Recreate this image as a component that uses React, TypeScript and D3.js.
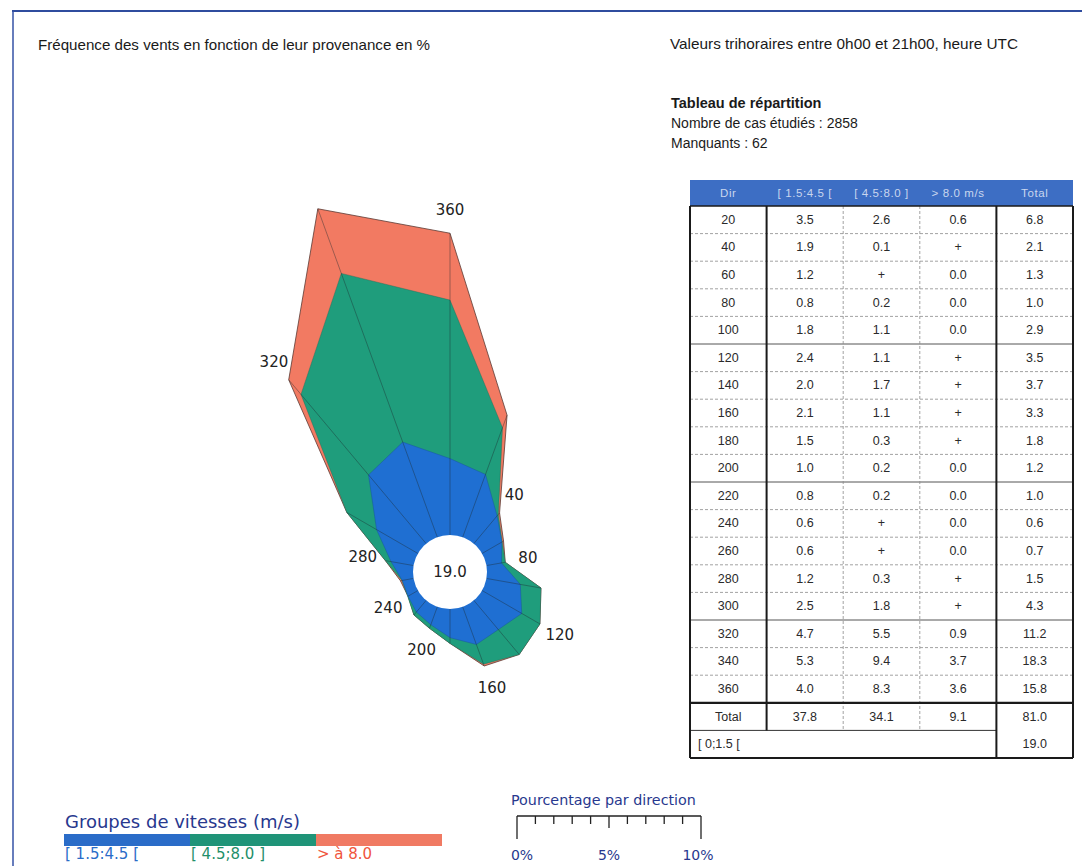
import { useEffect } from "react";
import * as d3 from "d3";

// directions (degrees, wind "from")
const directions = [20, 40, 60, 80, 100, 120, 140, 160, 180, 200, 220, 240, 260, 280, 300, 320, 340, 360];
// frequencies in %, null = "+" (trace, < 0.05)
const speedLow = [3.5, 1.9, 1.2, 0.8, 1.8, 2.4, 2.0, 2.1, 1.5, 1.0, 0.8, 0.6, 0.6, 1.2, 2.5, 4.7, 5.3, 4.0];
const speedMid = [2.6, 0.1, null, 0.2, 1.1, 1.1, 1.7, 1.1, 0.3, 0.2, 0.2, null, null, 0.3, 1.8, 5.5, 9.4, 8.3];
const speedHigh = [0.6, null, 0.0, 0.0, 0.0, null, null, null, null, 0.0, 0.0, 0.0, 0.0, null, null, 0.9, 3.7, 3.6];
const totals = [6.8, 2.1, 1.3, 1.0, 2.9, 3.5, 3.7, 3.3, 1.8, 1.2, 1.0, 0.6, 0.7, 1.5, 4.3, 11.2, 18.3, 15.8];
const columnTotals = [37.8, 34.1, 9.1, 81.0];
const calm = 19.0;
const casesStudied = 2858;
const missing = 62;

const labelDirections = [40, 80, 120, 160, 200, 240, 280, 320, 360];
const headerLabels = ["Dir", "[ 1.5:4.5 [", "[ 4.5:8.0 ]", "> 8.0 m/s", "Total"];
const legendLabels = ["[ 1.5:4.5 [", "[ 4.5;8.0 ]", "> à 8.0"];
const scaleTicks = [0, 1, 2, 3, 4, 5, 6, 7, 8, 9, 10];
const scaleLabels = [0, 5, 10];

const TRACE = 0.02;
const colors = { low: "#1f6fd2", mid: "#1f9d7c", high: "#f27a62" };
const legendColors = ["#2a6cc8", "#1f9478", "#f07a63"];
const legendTextColors = ["#2a6cc8", "#1f8f6a", "#f0553c"];
const navy = "#28388e";
const sans = "'Liberation Sans', Arial, sans-serif";
const deja = "'DejaVu Sans', sans-serif";

const fmt = (v: number | null) => (v === null ? "+" : v.toFixed(1));

export default function App() {
  useEffect(() => {
    document.body.style.margin = "0";
  }, []);

  const width = 1082;
  const height = 866;

  // rose
  const cx = 450;
  const cy = 572;
  const r0 = 37;
  const r = d3.scaleLinear().domain([0, 10]).range([r0, r0 + 191]);
  const rad = (deg: number) => (deg * Math.PI) / 180;

  const cumLow = speedLow.map((v) => v);
  const cumMid = speedMid.map((v, i) => cumLow[i] + (v === null ? TRACE : v));
  const cumHigh = totals.map((v) => v);

  const radial = d3
    .lineRadial<number>()
    .angle((_, i) => rad(directions[i]))
    .curve(d3.curveLinearClosed);

  const ring = (vals: number[]) => radial.radius((v) => r(v))(vals) ?? "";

  // table
  const colX = d3.scaleBand<number>().domain([0, 1, 2, 3, 4]).range([690, 1073]);
  const rowKeys = [...directions.map(String), "total", "calm"];
  const rowY = d3.scaleBand<string>().domain(rowKeys).range([206, 758]);
  const tableTop = 180;
  const tableLeft = 690;
  const tableRight = 1073;
  const rowH = rowY.bandwidth();
  const colW = colX.bandwidth();
  const totalTop = rowY("total")!;
  const calmTop = rowY("calm")!;

  // legend / scale bar
  const legendX = d3.scaleBand<number>().domain([0, 1, 2]).range([64, 442]);
  const pct = d3.scaleLinear().domain([0, 10]).range([517, 701]);

  const cellText = (x: number, y: number, t: string, key: string) => (
    <text key={key} x={x} y={y} textAnchor="middle" dominantBaseline="central" fontSize={12.5} fill="#2a2a2a" fontFamily={sans}>
      {t}
    </text>
  );

  return (
    <svg width={width} height={height} style={{ display: "block", background: "#fff" }}>
      {/* frame */}
      <line x1={12} x2={width} y1={11} y2={11} stroke="#2f4c9e" strokeWidth={2} />
      <line x1={13} x2={13} y1={11} y2={height} stroke="#3552a6" strokeWidth={1.5} />

      <text x={38} y={50} fontSize={15} fontFamily={sans} fill="#1a1a1a" textLength={392} lengthAdjust="spacingAndGlyphs">
        Fréquence des vents en fonction de leur provenance en %
      </text>
      <text x={670} y={49} fontSize={15} fontFamily={sans} fill="#1a1a1a" textLength={348} lengthAdjust="spacingAndGlyphs">
        Valeurs trihoraires entre 0h00 et 21h00, heure UTC
      </text>
      <text x={671} y={108} fontSize={14.5} fontWeight="bold" fontFamily={sans} fill="#1a1a1a">
        Tableau de répartition
      </text>
      <text x={671} y={128} fontSize={14} fontFamily={sans} fill="#1a1a1a">
        {`Nombre de cas étudiés : ${casesStudied}`}
      </text>
      <text x={671} y={148} fontSize={14} fontFamily={sans} fill="#1a1a1a">
        {`Manquants : ${missing}`}
      </text>

      {/* wind rose */}
      <g transform={`translate(${cx},${cy})`}>
        <path d={ring(cumHigh)} fill={colors.high} stroke="#5a3a33" strokeWidth={0.8} />
        <path d={ring(cumMid)} fill={colors.mid} stroke="#1c6a56" strokeWidth={0.4} />
        <path d={ring(cumLow)} fill={colors.low} stroke="#1a4f96" strokeWidth={0.4} />
        {directions.map((d, i) => {
          const a = rad(d);
          const ro = r(totals[i]);
          return (
            <line
              key={`rad-${d}`}
              x1={r0 * Math.sin(a)}
              y1={-r0 * Math.cos(a)}
              x2={ro * Math.sin(a)}
              y2={-ro * Math.cos(a)}
              stroke="#1e2a30"
              strokeOpacity={0.45}
              strokeWidth={0.9}
            />
          );
        })}
        <circle r={r0} fill="#fff" />
        <text textAnchor="middle" dominantBaseline="central" fontSize={15} fontFamily={deja} fill="#222">
          {calm.toFixed(1)}
        </text>
        {labelDirections.map((d) => {
          const i = directions.indexOf(d);
          const a = rad(d);
          const rl = r(totals[i]) + 23;
          return (
            <text
              key={`lab-${d}`}
              x={rl * Math.sin(a)}
              y={-rl * Math.cos(a)}
              textAnchor="middle"
              dominantBaseline="central"
              fontSize={15}
              fontFamily={deja}
              fill="#222"
            >
              {d}
            </text>
          );
        })}
      </g>

      {/* table */}
      <rect x={tableLeft} y={tableTop} width={tableRight - tableLeft} height={206 - tableTop} fill="#3d6ec4" />
      {headerLabels.map((h, i) => (
        <text
          key={`h-${i}`}
          x={colX(i)! + colW / 2}
          y={(tableTop + 206) / 2}
          textAnchor="middle"
          dominantBaseline="central"
          fontSize={11.5}
          fontFamily={sans}
          fill="#c9d6ee"
          letterSpacing={0.6}
        >
          {h}
        </text>
      ))}

      {/* row separators */}
      {directions.slice(0, -1).map((d, i) => {
        const y = rowY(String(d))! + rowH;
        const solid = (i + 1) % 5 === 0;
        return (
          <line
            key={`rs-${d}`}
            x1={tableLeft}
            x2={tableRight}
            y1={y}
            y2={y}
            stroke={solid ? "#555" : "#8a8a8a"}
            strokeWidth={solid ? 1 : 0.8}
            strokeDasharray={solid ? undefined : "3,2"}
          />
        );
      })}
      {/* inner dotted column lines */}
      {[2, 3].map((c) => (
        <line
          key={`ic-${c}`}
          x1={colX(c)!}
          x2={colX(c)!}
          y1={206}
          y2={calmTop}
          stroke="#8a8a8a"
          strokeWidth={0.8}
          strokeDasharray="3,2"
        />
      ))}
      <line x1={tableLeft} x2={colX(4)!} y1={calmTop} y2={calmTop} stroke="#333" strokeWidth={1} />
      <line x1={tableLeft} x2={tableRight} y1={totalTop} y2={totalTop} stroke="#1a1a1a" strokeWidth={2.2} />
      <line x1={tableLeft} x2={tableRight} y1={206} y2={206} stroke="#1a1a1a" strokeWidth={1.5} />
      <line x1={tableLeft} x2={tableRight} y1={758} y2={758} stroke="#1a1a1a" strokeWidth={2} />
      {/* thick column lines */}
      <line x1={tableLeft} x2={tableLeft} y1={206} y2={758} stroke="#1a1a1a" strokeWidth={2} />
      <line x1={colX(1)!} x2={colX(1)!} y1={206} y2={calmTop} stroke="#1a1a1a" strokeWidth={2} />
      <line x1={colX(4)!} x2={colX(4)!} y1={206} y2={758} stroke="#1a1a1a" strokeWidth={2} />
      <line x1={tableRight} x2={tableRight} y1={206} y2={758} stroke="#1a1a1a" strokeWidth={2} />

      {directions.map((d, i) => {
        const yc = rowY(String(d))! + rowH / 2;
        const vals = [String(d), fmt(speedLow[i]), fmt(speedMid[i]), fmt(speedHigh[i]), fmt(totals[i])];
        return vals.map((t, c) => cellText(colX(c)! + colW / 2, yc, t, `c-${d}-${c}`));
      })}
      {["Total", ...columnTotals.map((v) => v.toFixed(1))].map((t, c) =>
        cellText(colX(c)! + colW / 2, totalTop + rowH / 2, t, `t-${c}`)
      )}
      <text x={tableLeft + 8} y={calmTop + rowH / 2} dominantBaseline="central" fontSize={12.5} fontFamily={sans} fill="#2a2a2a">
        [ 0;1.5 [
      </text>
      {cellText(colX(4)! + colW / 2, calmTop + rowH / 2, calm.toFixed(1), "calm")}

      {/* speed legend */}
      <text x={65} y={828} fontSize={18} fontFamily={deja} fill={navy}>
        Groupes de vitesses (m/s)
      </text>
      {legendLabels.map((l, i) => (
        <g key={`lg-${i}`}>
          <rect x={legendX(i)!} y={834} width={legendX.bandwidth()} height={12} fill={legendColors[i]} />
          <text x={legendX(i)! + 1} y={859} fontSize={15} fontFamily={deja} fill={legendTextColors[i]}>
            {l}
          </text>
        </g>
      ))}

      {/* percentage scale bar */}
      <text x={511} y={805} fontSize={14.3} fontFamily={deja} fill={navy}>
        Pourcentage par direction
      </text>
      <line x1={pct(0)} x2={pct(10)} y1={816} y2={816} stroke="#222" strokeWidth={1.5} />
      {scaleTicks.map((t) => {
        const len = t === 0 || t === 10 ? 23 : t === 5 ? 12 : 8;
        return (
          <line key={`st-${t}`} x1={pct(t)} x2={pct(t)} y1={816} y2={816 + len} stroke="#222" strokeWidth={1.3} />
        );
      })}
      {scaleLabels.map((t) => (
        <text
          key={`sl-${t}`}
          x={pct(t) + (t === 0 ? 5 : t === 10 ? -3 : 0)}
          y={860}
          textAnchor="middle"
          fontSize={14}
          fontFamily={deja}
          fill={navy}
        >
          {`${t}%`}
        </text>
      ))}
    </svg>
  );
}
